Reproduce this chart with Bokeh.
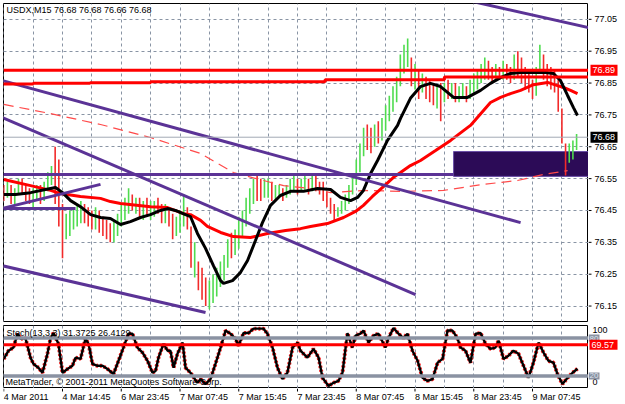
from bokeh.plotting import figure
from bokeh.models import Range1d, FixedTicker, Grid, Label, Span
from bokeh.layouts import column, row
from bokeh.embed import file_html
from bokeh.resources import INLINE
from bokeh.core.properties import value

FONT = "Liberation Sans"

# ---------------- data ----------------
price_ticks = [76.15, 76.25, 76.35, 76.45, 76.55, 76.65, 76.75, 76.85, 76.95, 77.05]
time_ticks = [0, 32, 64, 96, 128, 160, 192, 224, 256, 288]
time_labels = ["4 Mar 2011", "4 Mar 14:45", "6 Mar 23:45", "7 Mar 07:45", "7 Mar 15:45",
               "7 Mar 23:45", "8 Mar 07:45", "8 Mar 15:45", "8 Mar 23:45", "9 Mar 07:45"]
grid_x = [0, 16, 32, 48, 64, 80, 96, 112, 128, 144, 160, 176, 192, 208, 224, 240, 256, 272, 288, 304]

bar_x = list(range(0, 313, 2))
bar_hi = [76.53, 76.54, 76.53, 76.52, 76.55, 76.55, 76.53, 76.52, 76.52, 76.53,
          76.53, 76.54, 76.57, 76.59, 76.65, 76.61, 76.47, 76.44, 76.45, 76.46,
          76.47, 76.48, 76.47, 76.46, 76.45, 76.46, 76.45, 76.43, 76.42, 76.41,
          76.42, 76.44, 76.47, 76.49, 76.52, 76.50, 76.49, 76.49, 76.48, 76.49,
          76.48, 76.48, 76.49, 76.47, 76.47, 76.46, 76.44, 76.43, 76.45, 76.50,
          76.46, 76.40, 76.35, 76.29, 76.27, 76.24, 76.23, 76.25, 76.27, 76.29,
          76.31, 76.36, 76.38, 76.39, 76.43, 76.45, 76.49, 76.52, 76.55, 76.56,
          76.55, 76.55, 76.55, 76.54, 76.53, 76.53, 76.52, 76.53, 76.55, 76.56,
          76.55, 76.55, 76.56, 76.55, 76.56, 76.56, 76.54, 76.54, 76.51, 76.49,
          76.47, 76.46, 76.48, 76.50, 76.53, 76.56, 76.61, 76.66, 76.71, 76.72,
          76.71, 76.72, 76.73, 76.74, 76.78, 76.81, 76.84, 76.87, 76.94, 76.97,
          76.99, 76.93, 76.91, 76.89, 76.88, 76.87, 76.86, 76.85, 76.84, 76.85,
          76.85, 76.86, 76.85, 76.85, 76.84, 76.85, 76.84, 76.86, 76.88, 76.89,
          76.91, 76.93, 76.92, 76.90, 76.91, 76.90, 76.92, 76.91, 76.90, 76.94,
          76.95, 76.93, 76.90, 76.88, 76.86, 76.90, 76.97, 76.94, 76.91, 76.90,
          76.89, 76.86, 76.77, 76.66, 76.66, 76.67, 76.69]
bar_lo = [76.48, 76.49, 76.47, 76.47, 76.50, 76.50, 76.48, 76.47, 76.46, 76.48,
          76.47, 76.48, 76.51, 76.53, 76.47, 76.40, 76.30, 76.36, 76.37, 76.39,
          76.40, 76.41, 76.41, 76.40, 76.39, 76.39, 76.38, 76.37, 76.36, 76.35,
          76.35, 76.37, 76.40, 76.42, 76.44, 76.45, 76.44, 76.43, 76.42, 76.43,
          76.42, 76.43, 76.44, 76.41, 76.41, 76.40, 76.36, 76.37, 76.38, 76.40,
          76.39, 76.27, 76.24, 76.20, 76.17, 76.15, 76.14, 76.16, 76.18, 76.21,
          76.23, 76.27, 76.30, 76.31, 76.33, 76.37, 76.40, 76.44, 76.47, 76.48,
          76.48, 76.49, 76.49, 76.48, 76.48, 76.49, 76.48, 76.49, 76.50, 76.51,
          76.50, 76.51, 76.51, 76.50, 76.51, 76.51, 76.50, 76.48, 76.46, 76.44,
          76.42, 76.43, 76.44, 76.45, 76.47, 76.50, 76.53, 76.57, 76.62, 76.64,
          76.63, 76.65, 76.66, 76.67, 76.70, 76.73, 76.76, 76.79, 76.84, 76.88,
          76.90, 76.84, 76.83, 76.80, 76.82, 76.80, 76.79, 76.78, 76.77, 76.73,
          76.79, 76.80, 76.80, 76.79, 76.79, 76.80, 76.79, 76.80, 76.82, 76.83,
          76.85, 76.86, 76.86, 76.85, 76.86, 76.86, 76.86, 76.86, 76.85, 76.86,
          76.87, 76.85, 76.83, 76.82, 76.80, 76.81, 76.88, 76.86, 76.84, 76.83,
          76.82, 76.76, 76.66, 76.56, 76.60, 76.61, 76.64]
bar_cl = [76.50, 76.52, 76.49, 76.51, 76.53, 76.51, 76.50, 76.48, 76.50, 76.52,
          76.49, 76.53, 76.55, 76.57, 76.50, 76.44, 76.40, 76.41, 76.43, 76.44,
          76.45, 76.46, 76.44, 76.43, 76.42, 76.44, 76.40, 76.39, 76.38, 76.37,
          76.40, 76.42, 76.45, 76.47, 76.49, 76.47, 76.48, 76.46, 76.47, 76.45,
          76.46, 76.47, 76.46, 76.44, 76.45, 76.42, 76.38, 76.41, 76.43, 76.46,
          76.43, 76.29, 76.30, 76.25, 76.19, 76.18, 76.20, 76.22, 76.24, 76.27,
          76.29, 76.33, 76.32, 76.36, 76.40, 76.43, 76.47, 76.50, 76.52, 76.51,
          76.50, 76.52, 76.53, 76.50, 76.51, 76.52, 76.50, 76.51, 76.53, 76.54,
          76.52, 76.53, 76.54, 76.52, 76.55, 76.53, 76.51, 76.49, 76.47, 76.45,
          76.44, 76.45, 76.47, 76.49, 76.52, 76.55, 76.59, 76.63, 76.68, 76.67,
          76.66, 76.70, 76.69, 76.72, 76.76, 76.79, 76.82, 76.85, 76.92, 76.93,
          76.95, 76.86, 76.87, 76.84, 76.85, 76.83, 76.81, 76.80, 76.81, 76.79,
          76.83, 76.82, 76.83, 76.81, 76.82, 76.83, 76.81, 76.84, 76.86, 76.87,
          76.89, 76.91, 76.88, 76.87, 76.89, 76.88, 76.90, 76.88, 76.87, 76.92,
          76.89, 76.88, 76.85, 76.84, 76.83, 76.88, 76.94, 76.88, 76.87, 76.86,
          76.84, 76.78, 76.68, 76.60, 76.64, 76.66, 76.68]
first_open = 76.51

# fast moving average (black)
ma_fast_x = [0, 6.4, 14.6, 22.7, 28.2, 32, 36.4, 41.8, 47.3, 52.7, 58.1, 63.6, 69, 74.5, 79.9,
             85.4, 89.2, 93.5, 99, 101.7, 105.5, 109.9, 114.2, 118.1, 119.7, 124.6, 128.9,
             132.8, 137.1, 140.9, 145.3, 150.7, 156.2, 163.3, 170.9, 178, 183.4, 188.9, 192.7,
             195.9, 199.8, 203.6, 209, 214.5, 216.1, 221.5, 227, 232.4, 237.9, 245, 252.6,
             259.7, 265.1, 270.6, 276, 281.5, 288.5, 295.1, 299.4, 303.2, 307.1, 310.3, 312.5]
ma_fast_y = [76.500, 76.500, 76.506, 76.516, 76.522, 76.506, 76.481, 76.462, 76.437, 76.428,
             76.425, 76.406, 76.415, 76.428, 76.437, 76.450, 76.456, 76.450, 76.437, 76.431,
             76.378, 76.331, 76.277, 76.230, 76.221, 76.230, 76.255, 76.293, 76.356, 76.412,
             76.466, 76.497, 76.510, 76.510, 76.519, 76.516, 76.491, 76.481, 76.491, 76.513,
             76.566, 76.607, 76.670, 76.717, 76.739, 76.802, 76.839, 76.849, 76.839, 76.805,
             76.805, 76.827, 76.849, 76.867, 76.880, 76.883, 76.883, 76.883, 76.880, 76.858,
             76.811, 76.773, 76.748]

# slow moving average (red)
ma_slow_x = [0, 14.6, 25.5, 30.9, 41.8, 52.7, 58.1, 63.6, 79.9, 89.2, 97.9, 101.7, 107.2,
             110.9, 118.1, 125.1, 134.4, 143.6, 153.5, 161.6, 167.1, 176.3, 185.1, 191.6,
             195.9, 200.8, 206.8, 212.3, 216.1, 221.5, 227, 235.2, 243.4, 254.2, 265.1,
             270.6, 276, 281.5, 288.5, 296.2, 301.6, 304.9, 308.7, 312.5]
ma_slow_y = [76.547, 76.528, 76.513, 76.503, 76.494, 76.488, 76.478, 76.472, 76.462, 76.459,
             76.440, 76.437, 76.419, 76.400, 76.381, 76.368, 76.365, 76.378, 76.387, 76.393,
             76.400, 76.409, 76.428, 76.447, 76.466, 76.494, 76.525, 76.554, 76.569, 76.591,
             76.607, 76.638, 76.670, 76.717, 76.789, 76.805, 76.817, 76.827, 76.845, 76.852,
             76.842, 76.836, 76.827, 76.817]

# long moving average (dashed)
ma_long_x = [0, 25.5, 52.7, 79.9, 107.2, 125.1, 141.5, 152.4, 167.1, 178, 195.9, 216.1,
             239.5, 261.3, 279.8, 294, 307.1]
ma_long_y = [76.783, 76.754, 76.720, 76.679, 76.629, 76.569, 76.544, 76.528, 76.519, 76.506,
             76.513, 76.510, 76.513, 76.532, 76.544, 76.563, 76.575]

# trend lines (purple)
tl_x0 = [255.3, -1, -1, -1, -1, -1, -1]
tl_y0 = [77.106, 76.858, 76.742, 76.277, 76.456, 76.456, 76.563]
tl_x1 = [318.5, 281.5, 224.3, 109.9, 52.7, 39.1, 245]
tl_y1 = [77.024, 76.412, 76.186, 76.130, 76.532, 76.456, 76.563]

# zone rectangle
zone_left, zone_right, zone_bottom, zone_top = 245, 330, 76.557, 76.635

# horizontal levels
level_main = 76.89
level_step_x = [-1, 16, 47, 80, 175, 240, 330]
level_step_y = [76.847, 76.849, 76.851, 76.854, 76.860, 76.869, 76.869]
bid = 76.68

# stochastic
st_x = [0, 2.6, 5.3, 7.5, 9.1, 11.8, 14.6, 16.2, 18.9, 21.1,
        23.8, 25.5, 27.1, 29.8, 32, 34.7, 37.4, 39.1, 41.8, 44.5,
        46.2, 48.3, 51.1, 53.8, 56.5, 59.8, 62.5, 65.2, 67.9, 70.1,
        72.8, 75.6, 78.3, 81, 82.7, 84.3, 87, 89.2, 90.8, 92.5,
        94.6, 97.4, 99, 101.7, 105.5, 107.2, 109.9, 112.6, 115.3, 118.1,
        120.8, 123.5, 126.2, 127.9, 130.6, 133.3, 136, 138.8, 141.5, 143.6,
        146.4, 149.1, 151.8, 154.5, 157.3, 160, 161.6, 165.4, 168.7, 171.5,
        173.6, 176.9, 179.6, 182.3, 184.5, 187.2, 189.9, 191.6, 194.3, 195.9,
        198.7, 201.4, 204.1, 207.9, 209.5, 212.3, 215, 217.7, 219.9, 222.6,
        225.4, 228.1, 230.8, 233.5, 236.3, 239, 241.7, 244.4, 247.1, 248.8,
        251.5, 254.2, 257, 259.7, 262.4, 265.1, 267.8, 269.5, 272.2, 274.9,
        277.6, 280.4, 283.1, 285.8, 288.5, 291.3, 294, 296.7, 299.4, 301.6,
        304.3, 307.1, 309.8, 312.5]
st_v = [47, 60, 65, 87, 79, 80, 49, 39, 33, 25,
        55, 80, 88, 71, 25, 31, 36, 49, 47, 79,
        71, 39, 36, 36, 31, 23, 44, 65, 87, 87,
        65, 57, 44, 25, 28, 49, 71, 60, 60, 33,
        55, 73, 33, 25, 9, 15, 7, 15, 39, 65,
        92, 87, 79, 68, 88, 88, 95, 95, 95, 87,
        65, 33, 15, 25, 65, 73, 60, 49, 63, 49,
        17, 4, 9, 12, 25, 88, 65, 84, 87, 92,
        73, 84, 87, 65, 80, 96, 87, 80, 87, 60,
        44, 17, 12, 15, 41, 47, 92, 92, 80, 65,
        60, 41, 87, 88, 71, 63, 65, 76, 47, 52,
        60, 55, 36, 17, 41, 73, 57, 44, 41, 23,
        7, 17, 25, 31.37]
st_level_hi, st_level_lo, st_red = 80, 20, 69.57
st_scale = [100, 0]

# ---------------- styles ----------------
GRID = "#8994a4"
PURPLE = "#5b3396"
UP = "#4fdc4f"
DOWN = "#f22a2a"
LEVEL_GRAY = "#8a92a2"
X0, X1 = -0.136, 318.49
xr = Range1d(X0, X1)


def base(height, y_range, top):
    f = figure(width=588, height=height, x_range=xr, y_range=y_range,
               x_axis_location=None, y_axis_location=None,
               toolbar_location=None, output_backend="svg",
               min_border_left=3, min_border_right=0, min_border_top=top,
               min_border_bottom=0)
    f.grid.visible = False
    f.outline_line_color = "black"
    f.background_fill_color = "white"
    f.border_fill_color = "white"
    return f


def panel(height, y_range, top):
    f = figure(width=37, height=height, x_range=Range1d(0, 37), y_range=y_range,
               x_axis_location=None, y_axis_location=None,
               toolbar_location=None, output_backend="svg",
               min_border_left=0, min_border_right=0, min_border_top=top,
               min_border_bottom=0)
    f.grid.visible = False
    f.outline_line_color = None
    f.background_fill_color = "white"
    f.border_fill_color = "white"
    return f


def lab(fig, x, y, text, color="black", size="9px"):
    fig.add_layout(Label(x=x, y=y, text=text, text_color=color, text_font=FONT,
                         text_font_size=size, text_baseline="middle", text_align="left"))


def ptext(fig, x, ys, texts, color="black", size="9px"):
    fig.text(x=[x] * len(ys), y=ys, text=texts, text_font=value(FONT), text_font_size=size,
             text_color=color, text_align="left", text_baseline="middle")


def pbox(fig, y, cx, w, h, color):
    fig.rect(x=[cx], y=[y], width=w, height=h, width_units="screen", height_units="screen",
             fill_color=color, line_color=None)


# ---------------- main chart ----------------
main = base(322, Range1d(76.0984, 77.0997), 3)
main.add_layout(Grid(dimension=0, ticker=FixedTicker(ticks=grid_x), grid_line_color=GRID,
                     grid_line_dash="3 3", grid_line_width=1), "center")
main.add_layout(Grid(dimension=1, ticker=FixedTicker(ticks=price_ticks), grid_line_color=GRID,
                     grid_line_dash="3 3", grid_line_width=1), "center")

main.quad(left=[zone_left], right=[zone_right], bottom=[zone_bottom], top=[zone_top],
          fill_color="#2c0b57", line_color="#6a4fa8", line_width=1)

main.add_layout(Span(location=bid, dimension="width", line_color="#a2a9b4", line_width=1))

opens = [first_open] + bar_cl[:-1]
colors = [UP if c >= o else DOWN for o, c in zip(opens, bar_cl)]
main.segment(x0=bar_x, y0=bar_lo, x1=bar_x, y1=bar_hi, line_color=colors, line_width=1.6)

main.line(ma_long_x, ma_long_y, line_color="#ff4a4a", line_width=1.2, line_dash="10 6")
main.line(ma_slow_x, ma_slow_y, line_color="#ff0000", line_width=3)
main.line(ma_fast_x, ma_fast_y, line_color="#000000", line_width=3)

main.segment(x0=tl_x0, y0=tl_y0, x1=tl_x1, y1=tl_y1, line_color=PURPLE, line_width=3)

main.add_layout(Span(location=level_main, dimension="width", line_color="#ff0000", line_width=3))
main.step(level_step_x, level_step_y, mode="after", line_color="#ff0000", line_width=3)

lab(main, 1.5, 77.079, "USDX,M15  76.68 76.68 76.66 76.68")

# price scale on the right
mp = panel(322, main.y_range, 3)
mp.segment(x0=[0] * len(price_ticks), y0=price_ticks, x1=[3] * len(price_ticks), y1=price_ticks,
           line_color="black", line_width=1)
ptext(mp, 6, price_ticks, ["%.2f" % t for t in price_ticks])
pbox(mp, level_main, 15.5, 27, 11, "#ff0000")
ptext(mp, 4, [level_main], ["%.2f" % level_main], color="white")
pbox(mp, bid, 15.5, 27, 11, "#000000")
ptext(mp, 4, [bid], ["%.2f" % bid], color="white")

# ---------------- stochastic window ----------------
sub = base(66, Range1d(0, 100), 3)
sub.add_layout(Grid(dimension=0, ticker=FixedTicker(ticks=grid_x), grid_line_color=GRID,
                    grid_line_dash="3 3", grid_line_width=1), "center")
sub.add_layout(Span(location=st_level_hi, dimension="width", line_color=LEVEL_GRAY, line_width=3.5))
sub.add_layout(Span(location=st_level_lo, dimension="width", line_color=LEVEL_GRAY, line_width=3.5))
sub.add_layout(Span(location=st_red, dimension="width", line_color="#ff0000", line_width=3))
sub.line(st_x, st_v, line_color="#ff2020", line_width=4, line_dash="2 2")
sub.line(st_x, st_v, line_color="#000000", line_width=2.4)

lab(sub, 1.5, 88, "Stoch(13,3,3) 31.3725 26.4129")
lab(sub, 1.0, 11, "MetaTrader, \u00a9 2001-2011 MetaQuotes Software Corp.")

sp = panel(66, sub.y_range, 3)
ptext(sp, 4, [93], ["%d" % st_scale[0]])
ptext(sp, 4, [10], ["%d" % st_scale[1]])
pbox(sp, st_level_hi, 5.5, 11, 7, LEVEL_GRAY)
pbox(sp, st_level_lo, 5.5, 11, 7, LEVEL_GRAY)
ptext(sp, 1, [st_level_hi, st_level_lo], ["%d" % st_level_hi, "%d" % st_level_lo],
      color="#dfe4ee", size="8px")
pbox(sp, st_red, 15, 28, 10, "#ff0000")
ptext(sp, 3, [st_red], ["%.2f" % st_red], color="white")

# ---------------- time labels ----------------
strip = figure(width=625, height=16, x_range=xr, y_range=Range1d(0, 16),
               x_axis_location=None, y_axis_location=None,
               toolbar_location=None, output_backend="svg",
               min_border_left=3, min_border_right=37, min_border_top=0, min_border_bottom=0)
strip.grid.visible = False
strip.outline_line_color = None
strip.background_fill_color = "white"
strip.border_fill_color = "white"
strip.segment(x0=time_ticks, y0=[16] * len(time_ticks), x1=time_ticks, y1=[13] * len(time_ticks),
              line_color="black", line_width=1)
strip.text(x=time_ticks, y=[8] * len(time_ticks), text=time_labels, text_font=value(FONT),
           text_font_size="9px", text_color="black", text_align="left", text_baseline="middle")

layout = column(row(main, mp, spacing=0), row(sub, sp, spacing=0), strip, spacing=0)
open("out.html", "w").write(file_html(layout, INLINE))
